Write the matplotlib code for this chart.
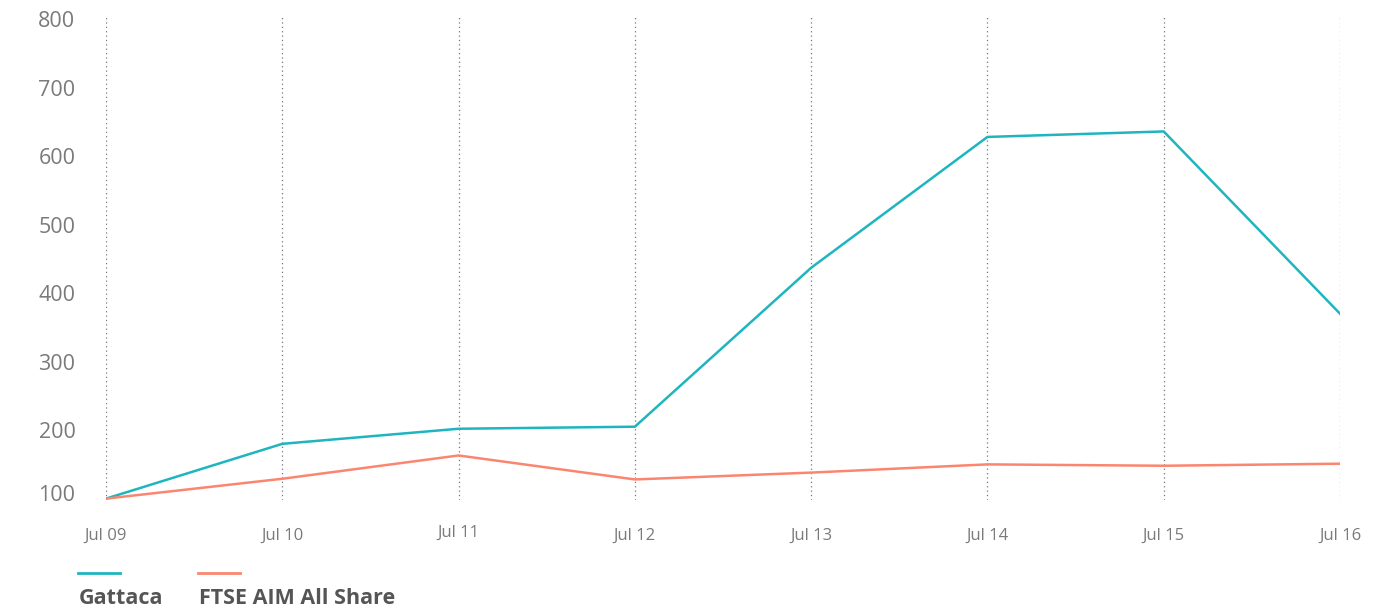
#!/usr/bin/env python3

''' Gattaca vs FTSE AIM All Share, rebased line chart '''
import matplotlib
matplotlib.use('Agg')
from matplotlib import pyplot as plt
from matplotlib.lines import Line2D
import matplotlib.transforms as mtransforms

dates = ['Jul 09', 'Jul 10', 'Jul 11', 'Jul 12', 'Jul 13', 'Jul 14', 'Jul 15', 'Jul 16']
gattaca = [100, 180, 202, 205, 437, 628, 636, 370]
ftse_aim = [100, 129, 163, 128, 138, 150, 148, 151]
yticks = [100, 200, 300, 400, 500, 600, 700, 800]

teal = '#1fb5bf'
salmon = '#fb8670'

plt.rcParams['font.family'] = ['Open Sans', 'DejaVu Sans']

fig = plt.figure(figsize=(13.89, 6.10), dpi=100)
W, H = 1389, 610
ax = fig.add_axes([106 / W, 1 - 500 / H, (1340 - 106) / W, (500 - 15) / H])

x = list(range(len(dates)))
ax.plot(x, gattaca, color=teal, lw=1.8, solid_joinstyle='miter')
ax.plot(x, ftse_aim, color=salmon, lw=1.8, solid_joinstyle='miter')

ax.set_xlim(0, len(dates) - 1)
ax.set_ylim(98, 806)

# dotted vertical grid
for xi in x:
    ax.axvline(xi, color='#777777', lw=0.9, ls=(0, (1, 2.5)), zorder=0)

for s in ax.spines.values():
    s.set_visible(False)

ax.set_xticks(x)
ax.set_xticklabels(dates, fontsize=12, color='#7a7a7a')
ax.set_yticks(yticks)
ax.set_yticklabels([str(v) for v in yticks], fontsize=15.5, color='#7a7a7a')
ax.tick_params(axis='x', length=0, pad=20)
ax.tick_params(axis='y', length=0, pad=22)

# lift the bottom y label and the Jul 11 label a little, like the original
lab = ax.get_yticklabels()[0]
lab.set_transform(lab.get_transform() + mtransforms.ScaledTranslation(0, 6 / 100, fig.dpi_scale_trans))
lab = ax.get_xticklabels()[2]
lab.set_transform(lab.get_transform() + mtransforms.ScaledTranslation(0, 3 / 100, fig.dpi_scale_trans))

# legend: short line above bold label
for x0, color, name in [(78, teal, 'Gattaca'), (198, salmon, 'FTSE AIM All Share')]:
    fig.add_artist(Line2D([x0 / W, (x0 + 42) / W], [1 - 573 / H, 1 - 573 / H],
                          color=color, lw=2, transform=fig.transFigure))
    fig.text((x0 + 1) / W, 1 - 598 / H, name, fontsize=15.5, fontweight='bold',
             color='#555555', va='center', ha='left')

fig.savefig('out.png', dpi=100)
